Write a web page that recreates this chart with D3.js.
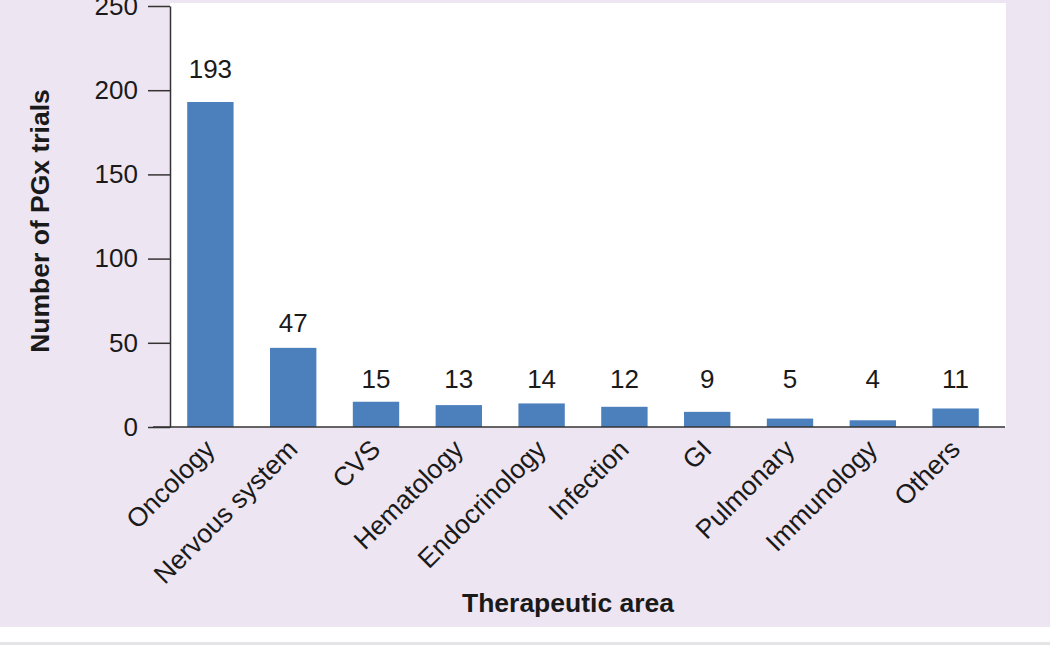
<!DOCTYPE html>
<html>
<head>
<meta charset="utf-8">
<script src="https://cdn.jsdelivr.net/npm/d3@7"></script>
<style>
  body { margin: 0; background: #fff; }
  svg { display: block; font-family: "Liberation Sans", Arial, sans-serif; }
</style>
</head>
<body>
<script>
const w = 1050; // width
const h = 645;  // height

// data
const areas = ["Oncology", "Nervous system", "CVS", "Hematology", "Endocrinology",
               "Infection", "GI", "Pulmonary", "Immunology", "Others"];
const trials = [193, 47, 15, 13, 14, 12, 9, 5, 4, 11];
const yTicks = [0, 50, 100, 150, 200, 250];

const dataset = areas.map((a, i) => ({ area: a, n: trials[i] }));

let svg = d3.select("body")
    .append("svg")
    .attr("width", w)
    .attr("height", h);

// background panel
svg.append("rect").attr("x", 0).attr("y", 0).attr("width", w).attr("height", 627).attr("fill", "#ede5f1");
svg.append("rect").attr("x", 0).attr("y", 642).attr("width", w).attr("height", 3).attr("fill", "#e4e4e6");

// plot area
svg.append("rect").attr("x", 170).attr("y", 3).attr("width", 836).attr("height", 424).attr("fill", "#fff");

let x = d3.scaleBand()
    .domain(areas)
    .range([169, 997])
    .paddingInner(0.44)
    .paddingOuter(0.22);

let y = d3.scaleLinear()
    .domain([0, 250])
    .range([427, 6]);

// bars
svg.selectAll("rect.bar")
    .data(dataset)
    .enter()
    .append("rect")
    .attr("class", "bar")
    .attr("x", d => x(d.area))
    .attr("width", x.bandwidth())
    .attr("y", d => y(d.n))
    .attr("height", d => y(0) - y(d.n))
    .attr("fill", "#4c80bd");

// value labels
svg.selectAll("text.val")
    .data(dataset)
    .enter()
    .append("text")
    .attr("class", "val")
    .attr("x", d => x(d.area) + x.bandwidth() / 2)
    .attr("y", d => {
        let v = Math.max(d.n, 15);
        return y(v) - 14 - 0.055 * (v - 15);
    })
    .attr("text-anchor", "middle")
    .attr("font-size", 26)
    .attr("fill", "#1a1a1a")
    .text(d => d.n);

// y axis
let axisY = d3.axisLeft(y).tickValues(yTicks).tickSize(22).tickPadding(10).tickSizeOuter(0);
let gY = svg.append("g")
    .attr("transform", "translate(170,0)")
    .call(axisY);
gY.select(".domain").attr("stroke", "#333").attr("stroke-width", 1.5);
gY.selectAll(".tick line").attr("stroke", "#333").attr("stroke-width", 1.5);
gY.selectAll(".tick text").attr("font-size", 26).attr("fill", "#1a1a1a")
    .attr("font-family", "Liberation Sans, Arial, sans-serif");

// x axis line
svg.append("line")
    .attr("x1", 153).attr("x2", 1005)
    .attr("y1", y(0)).attr("y2", y(0))
    .attr("stroke", "#333").attr("stroke-width", 1.5);

// category labels
svg.selectAll("text.cat")
    .data(dataset)
    .enter()
    .append("text")
    .attr("class", "cat")
    .attr("text-anchor", "end")
    .attr("font-size", 26.5)
    .attr("fill", "#1a1a1a")
    .attr("transform", d => `translate(${x(d.area) + x.bandwidth() / 2 + 6},${451}) rotate(-45)`)
    .text(d => d.area);

// y axis label
svg.append("text")
    .attr("text-anchor", "middle")
    .attr("transform", "translate(49,221) rotate(-90)")
    .attr("font-size", 26.5)
    .attr("font-weight", "bold")
    .attr("fill", "#1a1a1a")
    .text("Number of PGx trials");

// x axis label
svg.append("text")
    .attr("text-anchor", "middle")
    .attr("x", 568)
    .attr("y", 612)
    .attr("font-size", 26.5)
    .attr("font-weight", "bold")
    .attr("fill", "#1a1a1a")
    .text("Therapeutic area");
</script>
</body>
</html>
